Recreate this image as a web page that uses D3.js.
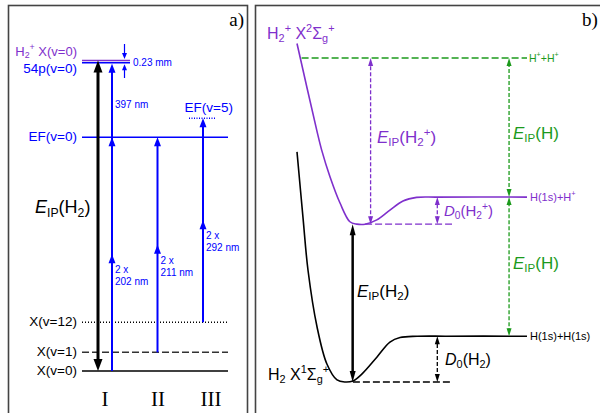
<!DOCTYPE html>
<html>
<head>
<meta charset="utf-8">
<script src="https://cdn.jsdelivr.net/npm/d3@7"></script>
<style>
  body { margin: 0; background: #fff; }
  text { font-family: "Liberation Sans", Arial, sans-serif; }
  .serif { font-family: "Liberation Serif", "Times New Roman", serif; }
</style>
</head>
<body>
<script>
// ---- panel a: schematic energy levels (diagram units)
var levelNames = ["X(v=0)", "X(v=1)", "X(v=12)", "EF(v=0)", "EF(v=5)", "54p(v=0)", "H2+ X(v=0)"];
var levelValues = [0, 0.99, 2.59, 12.42, 13.43, 16.38, 16.5];

// excitation schemes I, II, III: start level, intermediate level, labels
var schemes = ["I", "II", "III"];
var schemeFrom = ["X(v=0)", "X(v=1)", "X(v=12)"];
var schemeTo = ["EF(v=0)", "EF(v=0)", "EF(v=5)"];
var schemeWave = ["202 nm", "211 nm", "292 nm"];

// ---- panel b: potential curves (r in arbitrary units, energy in eV)
var h2R = [0, 0.26, 0.48, 0.87, 1.30, 1.74, 2.09, 2.43, 2.83, 3.48, 4.04, 4.48, 5.22, 6.5, 10];
var h2E = [22.5, 16.1, 10.9, 5.4, 1.76, 0.2, 0, 0.1, 0.8, 2.45, 3.9, 4.35, 4.47, 4.48, 4.48];
var h2pR = [0, 0.86, 1.07, 1.43, 1.87, 2.30, 2.60, 2.96, 3.47, 4.04, 4.61, 5.2, 6.07, 10];
var h2pE = [33.1, 24.6, 22.7, 20.1, 17.5, 15.67, 15.44, 15.43, 15.85, 16.8, 17.7, 18.05, 18.08, 18.08];

var ipH2 = 15.43;
var asymNames = ["H(1s)+H(1s)", "H(1s)+H+", "H+ +H+"];
var asymE = [4.48, 18.08, 31.68];

var W = 600, H = 413;
var BLUE = "#0000ff", PURPLE = "#7f30cc", GREEN = "#1c9a1c";

var svg = d3.select("body").append("svg")
    .attr("width", W)
    .attr("height", H);

// text with sub/superscripts: parts = [[text, "sub"|"sup"|null, italic]]
function rich(g, x, y, parts, size, color, anchor) {
    var t = g.append("text")
        .attr("x", x).attr("y", y)
        .attr("font-size", size)
        .attr("fill", color)
        .attr("text-anchor", anchor || "start");
    var shift = 0;
    parts.forEach(function(p) {
        var target = p[1] === "sub" ? size * 0.2 : p[1] === "sup" ? -size * 0.42 : 0;
        var ts = t.append("tspan").text(p[0]).attr("dy", target - shift);
        if (p[1]) ts.attr("font-size", size * 0.68);
        if (p[2]) ts.attr("font-style", "italic");
        shift = target;
    });
    return t;
}

// filled arrowhead with tip at (x,y); dir -1 points up, 1 points down
function head(g, x, y, dir, color, w, l) {
    g.append("path")
        .attr("d", "M" + x + "," + y + "L" + (x - w / 2) + "," + (y - dir * l) +
            "L" + (x + w / 2) + "," + (y - dir * l) + "Z")
        .attr("fill", color);
}

function vline(g, x, y1, y2, color, width, dash) {
    var l = g.append("line")
        .attr("x1", x).attr("x2", x).attr("y1", y1).attr("y2", y2)
        .attr("stroke", color).attr("stroke-width", width);
    if (dash) l.attr("stroke-dasharray", dash);
    return l;
}

function hline(g, x1, x2, y, color, width, dash) {
    var l = g.append("line")
        .attr("x1", x1).attr("x2", x2).attr("y1", y).attr("y2", y)
        .attr("stroke", color).attr("stroke-width", width);
    if (dash) l.attr("stroke-dasharray", dash);
    return l;
}

// ================= panel a =================
var ga = svg.append("g");
ga.append("rect")
    .attr("x", 8.5).attr("y", 5.5).attr("width", 239).attr("height", 430)
    .attr("fill", "none").attr("stroke", "#444").attr("stroke-width", 1.6);
ga.append("text").attr("class", "serif")
    .attr("x", 244).attr("y", 26).attr("text-anchor", "end")
    .attr("font-size", 19).text("a)");

var ya = d3.scaleLinear().domain([0, 16.5]).range([371, 60.5]);
var xa = d3.scalePoint().domain(schemes).range([112, 203]);
var xNum = d3.scalePoint().domain(schemes).range([105, 211]);
var lev = function(name) { return ya(levelValues[levelNames.indexOf(name)]); };

var levStyle = {
    "X(v=0)": { c: "#000", dash: null, x2: 228 },
    "X(v=1)": { c: "#333", dash: "7,3", x2: 228 },
    "X(v=12)": { c: "#000", dash: "1,2", x2: 228 },
    "EF(v=0)": { c: BLUE, dash: null, x2: 228 },
    "EF(v=5)": { c: BLUE, dash: "1,1.5", x2: 215 },
    "54p(v=0)": { c: BLUE, dash: null, x2: 130 },
    "H2+ X(v=0)": { c: PURPLE, dash: null, x2: 130 }
};

levelNames.forEach(function(name, i) {
    var s = levStyle[name];
    var x1 = name === "EF(v=5)" ? 189 : 82;
    hline(ga, x1, s.x2, ya(levelValues[i]), s.c, 1.5, s.dash);
});

// level labels
var labA = 13.5;
rich(ga, 77, lev("X(v=0)") + 4, [["X(v=0)"]], labA, "#000", "end");
rich(ga, 77, lev("X(v=1)") + 4, [["X(v=1)"]], labA, "#000", "end");
rich(ga, 77, lev("X(v=12)") + 4, [["X(v=12)"]], labA, "#000", "end");
rich(ga, 77, lev("EF(v=0)") + 4, [["EF(v=0)"]], labA, BLUE, "end");
rich(ga, 233, lev("EF(v=5)") - 6, [["EF(v=5)"]], labA, BLUE, "end");
rich(ga, 77, lev("54p(v=0)") + 10.5, [["54p(v=0)"]], labA, BLUE, "end");
rich(ga, 77, lev("H2+ X(v=0)") - 5, [["H"], ["2", "sub"], ["+", "sup"], [" X(v=0)"]], 13, PURPLE, "end");

// 0.23 mm gap marker
var xg = 124.5;
vline(ga, xg, 44, lev("H2+ X(v=0)") - 4, BLUE, 1.2);
head(ga, xg, lev("H2+ X(v=0)") - 1.5, 1, BLUE, 5, 6);
vline(ga, xg, lev("54p(v=0)") + 4, 78, BLUE, 1.2);
head(ga, xg, lev("54p(v=0)") + 1.5, -1, BLUE, 5, 6);
ga.append("text").attr("x", 133).attr("y", 65.5)
    .attr("font-size", 10).attr("fill", BLUE).text("0.23 mm");

// ionisation energy arrow (black, double headed)
var xIP = xa("I") - 14;
vline(ga, xIP, lev("X(v=0)") - 10, lev("H2+ X(v=0)") + 10, "#000", 3);
head(ga, xIP, lev("H2+ X(v=0)"), -1, "#000", 9, 12);
head(ga, xIP, lev("X(v=0)"), 1, "#000", 9, 12);
rich(ga, 35, 213, [["E", null, true], ["IP", "sub"], ["(H"], ["2", "sub"], [")"]], 18, "#000");

// two-photon schemes
schemes.forEach(function(s, i) {
    var x = xa(s);
    var e0 = levelValues[levelNames.indexOf(schemeFrom[i])];
    var e1 = levelValues[levelNames.indexOf(schemeTo[i])];
    var yTop = s === "I" ? lev("54p(v=0)") : ya(e1);
    vline(ga, x, ya(e0), yTop + 5, BLUE, 2);
    head(ga, x, ya((e0 + e1) / 2), -1, BLUE, 7, 9);
    head(ga, x, ya(e1), -1, BLUE, 7, 9);
    var ym = ya((e0 + e1) / 2);
    ga.append("text").attr("x", x + 3).attr("y", ym + 19)
        .attr("font-size", 10).attr("fill", BLUE).text("2 x");
    ga.append("text").attr("x", x + 3).attr("y", ym + 31)
        .attr("font-size", 10).attr("fill", BLUE).text(schemeWave[i]);
    ga.append("text").attr("class", "serif")
        .attr("x", xNum(s)).attr("y", 406).attr("text-anchor", "middle")
        .attr("font-size", 21).text(s);
});
// third photon of scheme I: EF(v=0) -> 54p
head(ga, xa("I"), lev("54p(v=0)") + 1, -1, BLUE, 7, 9);
ga.append("text").attr("x", xa("I") + 3).attr("y", 108)
    .attr("font-size", 10).attr("fill", BLUE).text("397 nm");

// ================= panel b =================
var gb = svg.append("g");
gb.append("rect")
    .attr("x", 255.5).attr("y", 5.5).attr("width", 400).attr("height", 430)
    .attr("fill", "none").attr("stroke", "#444").attr("stroke-width", 1.6);
gb.append("text").attr("class", "serif")
    .attr("x", 582).attr("y", 26)
    .attr("font-size", 19).text("b)");

var xb = d3.scaleLinear().domain([0, 10]).range([297, 527]);
var yb = d3.scaleLinear().domain([0, 31.68]).range([382, 58]);

var curve = d3.line()
    .x(function(d) { return xb(d[0]); })
    .y(function(d) { return yb(d[1]); })
    .curve(d3.curveCatmullRom.alpha(0.5));

gb.append("path")
    .attr("d", curve(d3.zip(h2R, h2E)))
    .attr("fill", "none").attr("stroke", "#000").attr("stroke-width", 1.6);
gb.append("path")
    .attr("d", curve(d3.zip(h2pR, h2pE)))
    .attr("fill", "none").attr("stroke", PURPLE).attr("stroke-width", 1.6);

// H+ + H+ asymptote
hline(gb, xb(0.2), xb(10), yb(asymE[2]), GREEN, 1.3, "7,3");

// minima reference lines
hline(gb, xb(2.96), xb(6.74), yb(ipH2), PURPLE, 1.3, "7,3");
hline(gb, xb(2.43), xb(6.74), yb(0), "#000", 1.3, "7,3");

// asymptote labels
rich(gb, 530, yb(asymE[0]) + 4, [["H(1s)+H(1s)"]], 11, "#000");
rich(gb, 530, yb(asymE[1]) + 4, [["H(1s)+H"], ["+", "sup"]], 11, PURPLE);
rich(gb, 529, yb(asymE[2]) + 3.5, [["H"], ["+", "sup"], ["+H"], ["+", "sup"]], 10.5, GREEN);

// double-headed dashed arrow helper
function darrow(g, x, e1, e2, color) {
    var y1 = yb(e1), y2 = yb(e2);
    vline(g, x, y1 - 4, y2 + 4, color, 1.3, "4,2");
    head(g, x, y1, 1, color, 5, 8);
    head(g, x, y2, -1, color, 5, 8);
}

// IP(H2+) and IP(H)
darrow(gb, xb(3.2), ipH2, asymE[2], PURPLE);
rich(gb, 377, 143, [["E", null, true], ["IP", "sub"], ["(H"], ["2", "sub"], ["+", "sup"], [")"]], 17, PURPLE);
darrow(gb, xb(9.22), asymE[1], asymE[2], GREEN);
rich(gb, 513, 139, [["E", null, true], ["IP", "sub"], ["(H)"]], 17, GREEN);
darrow(gb, xb(9.22), asymE[0], asymE[1], GREEN);
rich(gb, 513, 269, [["E", null, true], ["IP", "sub"], ["(H)"]], 17, GREEN);

// dissociation energies
darrow(gb, xb(6.1), ipH2, asymE[1], PURPLE);
rich(gb, 444, 216, [["D", null, true], ["0", "sub"], ["(H"], ["2", "sub"], ["+", "sup"], [")"]], 15, PURPLE);
darrow(gb, xb(6.1), 0, asymE[0], "#000");
rich(gb, 445, 365, [["D", null, true], ["0", "sub"], ["(H"], ["2", "sub"], [")"]], 16, "#000");

// IP(H2) thick arrow
var xk = xb(2.42);
vline(gb, xk, yb(0) - 8, yb(ipH2) + 8, "#000", 2.5);
head(gb, xk, yb(0), 1, "#000", 6, 11);
head(gb, xk, yb(ipH2), -1, "#000", 6, 11);
rich(gb, 357, 297, [["E", null, true], ["IP", "sub"], ["(H"], ["2", "sub"], [")"]], 17, "#000");

// state labels
rich(gb, 267, 39, [["H"], ["2", "sub"], ["+", "sup"], [" X"], ["2", "sup"], ["Σ"], ["g", "sub"], ["+", "sup"]], 16, PURPLE);
rich(gb, 268, 380, [["H"], ["2", "sub"], [" X"], ["1", "sup"], ["Σ"], ["g", "sub"], ["+", "sup"]], 16, "#000");
</script>
</body>
</html>
